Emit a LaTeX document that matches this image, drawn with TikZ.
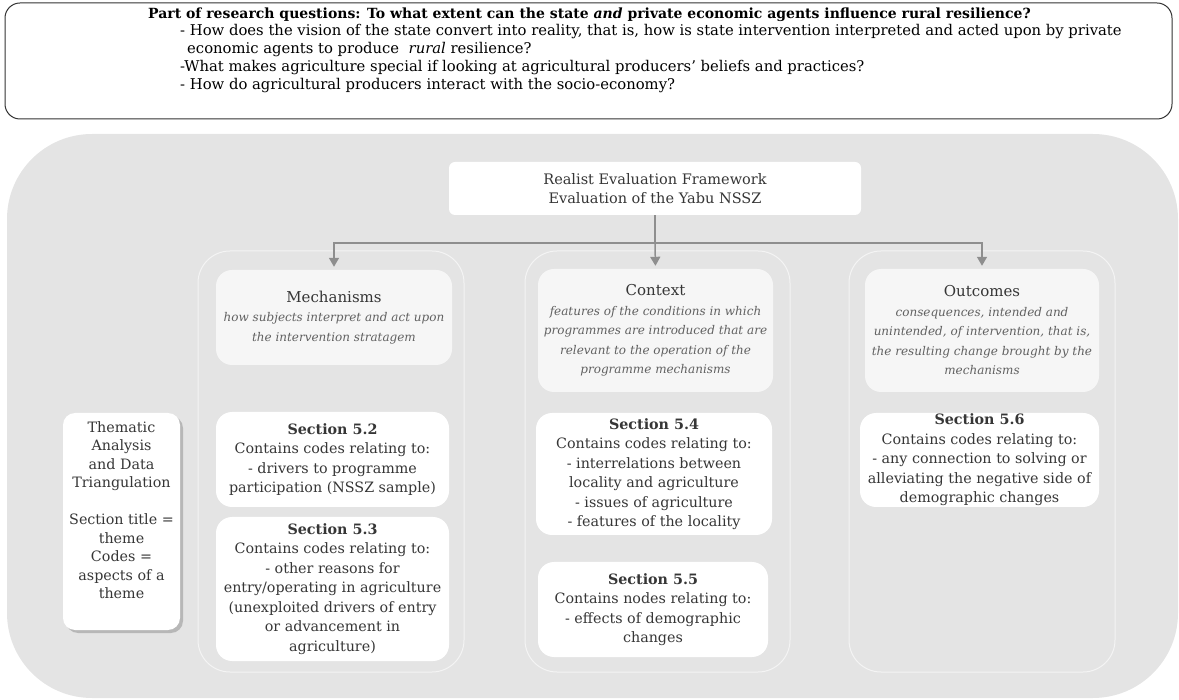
\documentclass[tikz,border=0pt]{standalone}
\usepackage{fontspec}
\setmainfont{DejaVu Serif}
\usetikzlibrary{arrows.meta,shadows}

\definecolor{fon}{HTML}{E4E4E4}
\definecolor{kontur}{HTML}{F4F4F4}
\definecolor{shapka}{HTML}{F6F6F6}
\definecolor{strelka}{HTML}{8E8E8E}
\definecolor{tekst}{HTML}{363636}

\newcommand{\zag}[1]{\textcolor{tekst}{\upshape\fontsize{15}{19.5}\selectfont #1}}

\tikzset{
  kolonka/.style = { draw = kontur, line width = 1pt, rounded corners = 32pt, inner sep = 0pt },
  zagolovok/.style = { fill = shapka, rounded corners = 16pt, inner sep = 0pt, align = center, text = black!62,
                       font = \fontsize{12}{19.5}\selectfont\itshape },
  razdel/.style = { fill = white, rounded corners = 16pt, inner sep = 0pt, align = center, text = tekst,
                    font = \fontsize{14.3}{19.5}\selectfont },
  linia/.style = { draw = strelka, line width = 1.5pt },
  strela/.style = { linia, -{Triangle[length=9pt,width=10pt]}, shorten > = 3pt }
}

\begin{document}
\begin{tikzpicture}[ x = 1pt, y = -1pt ]
    \useasboundingbox ( 0, 0 ) rectangle ( 1179, 700 );

    % вопросы исследования
    \node [ draw = black!80, line width = 1pt, rounded corners = 15pt, minimum width = 1167pt, minimum height = 116pt ]
        (rq) at ( 588.5, 61 ) {};
    \node [ anchor = west, font = \fontsize{14}{17}\bfseries\selectfont, inner sep = 0pt ] (rqtitle) at ( 148, 14.5 )
        {Part of research questions: To what extent can the state \textit{and} private economic agents influence rural resilience?};
    \node [ anchor = north west, align = left, font = \fontsize{14.8}{18}\selectfont, inner sep = 0pt ] (rqlist) at ( 180, 24 )
        {- How does the vision of the state convert into reality, that is, how is state intervention interpreted and acted upon by private\\
         \hspace{7pt}economic agents to produce \ \textit{rural} resilience?\\
         -What makes agriculture special if looking at agricultural producers' beliefs and practices?\\
         - How do agricultural producers interact with the socio-economy?};

    % фон
    \fill [ fon, rounded corners = 85pt ] ( 7, 134 ) rectangle ( 1178, 698 );

    % колонки
    \node [ kolonka, minimum width = 266pt, minimum height = 421pt ] (col1) at ( 331, 461.5 ) {};
    \node [ kolonka, minimum width = 265pt, minimum height = 421pt ] (col2) at ( 657.5, 461.5 ) {};
    \node [ kolonka, minimum width = 266pt, minimum height = 421pt ] (col3) at ( 982, 461.5 ) {};

    % рамка
    \node [ fill = white, rounded corners = 6pt, minimum width = 412pt, minimum height = 53pt, align = center,
            text = tekst, font = \fontsize{14.5}{19.5}\selectfont ] (rama) at ( 655, 188.5 )
        {Realist Evaluation Framework\\Evaluation of the Yabu NSSZ};

    % механизмы, контекст, результаты
    \node [ zagolovok, minimum width = 236pt, minimum height = 95pt ] (mech) at ( 334, 317.5 )
        {\zag{Mechanisms}\\how subjects interpret and act upon\\the intervention stratagem};
    \node [ zagolovok, minimum width = 235pt, minimum height = 123pt ] (ctx) at ( 655.5, 330.5 )
        {\zag{Context}\\features of the conditions in which\\programmes are introduced that are\\relevant to the operation of the\\programme mechanisms};
    \node [ zagolovok, minimum width = 234pt, minimum height = 123pt ] (outc) at ( 982, 330.5 )
        {\zag{Outcomes}\\consequences, intended and\\unintended, of intervention, that is,\\the resulting change brought by the\\mechanisms};

    % стрелки
    \coordinate (razv) at ( 655, 243 );
    \draw [ linia ] (rama.south) -- (razv);
    \draw [ strela ] (razv) -| (mech.north);
    \draw [ strela ] (razv) -- (ctx.north);
    \draw [ strela ] (razv) -| (outc.north);

    % тематический анализ
    \node [ fill = white, rounded corners = 12pt, minimum width = 117pt, minimum height = 217pt,
            drop shadow={shadow xshift=3pt,shadow yshift=-3pt,fill=black!45} ] (tema) at ( 121.5, 521.5 ) {};
    \node [ anchor = north, align = center, inner sep = 0pt, text = tekst, font = \fontsize{14.3}{18.5}\selectfont ]
        (tematxt) at ( 121.5, 421 )
        {Thematic\\Analysis\\and Data\\Triangulation\\[18.5pt]Section title =\\theme\\Codes =\\aspects of a\\theme};

    % разделы
    \node [ razdel, minimum width = 233pt, minimum height = 95pt ] (s52) at ( 332.5, 459.5 )
        {\textbf{Section 5.2}\\Contains codes relating to:\\- drivers to programme\\participation (NSSZ sample)};
    \node [ razdel, minimum width = 233pt, minimum height = 144pt ] (s53) at ( 332.5, 589 )
        {\textbf{Section 5.3}\\Contains codes relating to:\\- other reasons for\\entry/operating in agriculture\\(unexploited drivers of entry\\or advancement in\\agriculture)};
    \node [ razdel, minimum width = 236pt, minimum height = 122pt ] (s54) at ( 654, 474 )
        {\textbf{Section 5.4}\\Contains codes relating to:\\- interrelations between\\locality and agriculture\\- issues of agriculture\\- features of the locality};
    \node [ razdel, minimum width = 230pt, minimum height = 95pt ] (s55) at ( 653, 609.5 )
        {\textbf{Section 5.5}\\Contains nodes relating to:\\- effects of demographic\\changes};
    \node [ razdel, minimum width = 239pt, minimum height = 94pt ] (s56) at ( 979.5, 460 )
        {\textbf{Section 5.6}\\Contains codes relating to:\\- any connection to solving or\\alleviating the negative side of\\demographic changes};
\end{tikzpicture}
\end{document}
